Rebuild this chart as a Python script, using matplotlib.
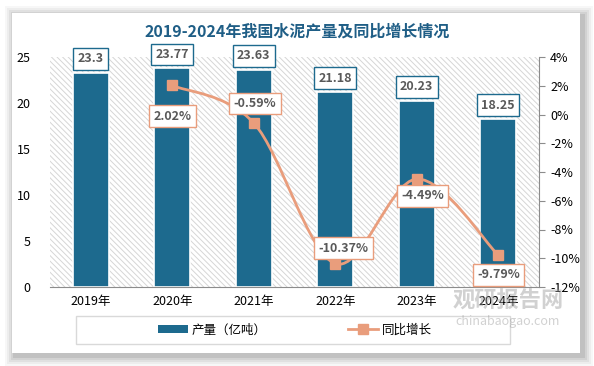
import numpy as np
import matplotlib
matplotlib.use("Agg")
import matplotlib.pyplot as plt
from matplotlib.patches import Rectangle, PathPatch
from matplotlib.path import Path
from matplotlib.lines import Line2D

plt.rcParams['font.family'] = ['Noto Sans CJK SC', 'DejaVu Sans']
plt.rcParams['hatch.linewidth'] = 0.7

years = ['2019年', '2020年', '2021年', '2022年', '2023年', '2024年']
output = [23.3, 23.77, 23.63, 21.18, 20.23, 18.25]          # 亿吨
growth_years = [1, 2, 3, 4, 5]                               # index into years
growth = [2.02, -0.59, -10.37, -4.49, -9.79]                 # %
# label offsets in points (dx, dy) for the growth labels
growth_offsets = [(0, -22), (1, 14), (6, 11), (4, -12), (0, -14)]

bar_color = '#1D6A8E'
line_color = '#E99D7C'
text_color = '#595959'

fig = plt.figure(figsize=(5.94, 3.66), dpi=100)
fig.patch.set_facecolor('white')

# card with soft shadow
for i, a in enumerate([0.03, 0.04, 0.05, 0.06, 0.08]):
    pad = (5 - i) * 2
    fig.patches.append(Rectangle(((12 - pad + 3) / 594, 1 - (353 + pad + 3) / 366),
                                 (568 + 2 * pad) / 594, (340 + 2 * pad) / 366,
                                 transform=fig.transFigure, facecolor='black',
                                 alpha=a, edgecolor='none', zorder=-3))
fig.patches.append(Rectangle((12 / 594, 1 - 353 / 366), 568 / 594, 340 / 366,
                             transform=fig.transFigure, facecolor='white',
                             edgecolor='none', zorder=-2))

ax = fig.add_axes([50 / 594, 1 - 287 / 366, 489 / 594, 230 / 366])
ax.set_facecolor('none')
x = np.arange(len(years))

# hatched plot area
hatch = Rectangle((0, 0), 1, 1, transform=ax.transAxes, facecolor='white',
                  edgecolor='#D6D6D6', hatch='\\\\\\\\\\\\', linewidth=0, zorder=0)
ax.add_patch(hatch)

bars = ax.bar(x, output, width=0.44, color=bar_color, edgecolor='white',
              linewidth=1.2, zorder=2, label='产量（亿吨）')
ax.set_xlim(-0.5, len(years) - 0.5)
ax.set_ylim(0, 25)
ax.set_yticks([0, 5, 10, 15, 20, 25])
ax.set_xticks(x)
ax.set_xticklabels(years)
ax.tick_params(axis='both', length=0, labelsize=9, colors='black', pad=6)
ax.tick_params(axis='y', pad=14)
for s in ['top', 'left', 'right']:
    ax.spines[s].set_visible(False)
ax.spines['bottom'].set_color('#8C8C8C')
ax.spines['bottom'].set_zorder(5)

for xi, v in zip(x, output):
    ax.annotate(f'{v:g}', (xi, v), xytext=(0, 10), textcoords='offset points',
                ha='center', va='center', fontsize=9, fontweight='bold',
                color=text_color, zorder=6,
                bbox=dict(boxstyle='square,pad=0.35', facecolor='white',
                          edgecolor=bar_color, linewidth=1))

ax2 = ax.twinx()
ax2.set_ylim(-12, 4)
ax2.set_yticks(np.arange(-12, 5, 2))
ax2.set_yticklabels([f'{t}%' for t in range(-12, 5, 2)])
ax2.tick_params(axis='y', direction='out', length=4, color='#8C8C8C',
                labelsize=9, labelcolor='black', pad=4)
for s in ['top', 'left', 'bottom']:
    ax2.spines[s].set_visible(False)
ax2.spines['right'].set_color('#8C8C8C')

# smoothed growth line (Catmull-Rom as cubic Bezier, like Excel's smoothing)
gx = np.array(growth_years, dtype=float)
gy = np.array(growth, dtype=float)
pts = np.column_stack([gx, gy])
verts = [pts[0]]
codes = [Path.MOVETO]
for i in range(len(pts) - 1):
    p0 = pts[i - 1] if i > 0 else pts[i]
    p1, p2 = pts[i], pts[i + 1]
    p3 = pts[i + 2] if i + 2 < len(pts) else pts[i + 1]
    c1 = p1 + (p2 - p0) / 6
    c2 = p2 - (p3 - p1) / 6
    verts += [c1, c2, p2]
    codes += [Path.CURVE4] * 3
ax2.add_patch(PathPatch(Path(verts, codes), facecolor='none',
                        edgecolor=line_color, linewidth=2, zorder=3))
ax2.plot(gx, gy, linestyle='none', marker='s', markersize=7,
         color=line_color, zorder=4)

for xi, v, (dx, dy) in zip(gx, gy, growth_offsets):
    ax2.annotate(f'{v:.2f}%', (xi, v), xytext=(dx, dy), textcoords='offset points',
                 ha='center', va='center', fontsize=9, fontweight='bold',
                 color=text_color, zorder=6,
                 bbox=dict(boxstyle='square,pad=0.35', facecolor='white',
                           edgecolor=line_color, linewidth=1))

fig.text(0.5, 1 - 32 / 366, '2019-2024年我国水泥产量及同比增长情况',
         ha='center', va='center', fontsize=11.5, fontweight='bold',
         color='#1F5E86')

# legend
fig.patches.append(Rectangle((76 / 594, 1 - 344 / 366), 434 / 594, 28 / 366,
                             transform=fig.transFigure, facecolor='white',
                             edgecolor='#D9D9D9', linewidth=1, zorder=1))
handles = [Rectangle((0, 0), 1, 1, facecolor=bar_color),
           Line2D([0], [0], color=line_color, linewidth=2, marker='s', markersize=7)]
fig.legend(handles, ['产量（亿吨）', '同比增长'], loc='center',
           bbox_to_anchor=(295 / 594, 1 - 330 / 366), ncol=2, frameon=False,
           fontsize=9, handlelength=2.4, handleheight=0.6, columnspacing=6.5,
           handletextpad=0.3)

# watermark
fig.text(508 / 594, 1 - 301 / 366, '观研报告网', ha='center', va='center',
         fontsize=16, fontweight='bold', color='#9A9A9A', alpha=0.45, zorder=10)
fig.text(508 / 594, 1 - 322 / 366, 'chinabaogao.com', ha='center', va='center',
         fontsize=9, color='#9A9A9A', alpha=0.45, zorder=10)

fig.savefig('out.png', dpi=100)
